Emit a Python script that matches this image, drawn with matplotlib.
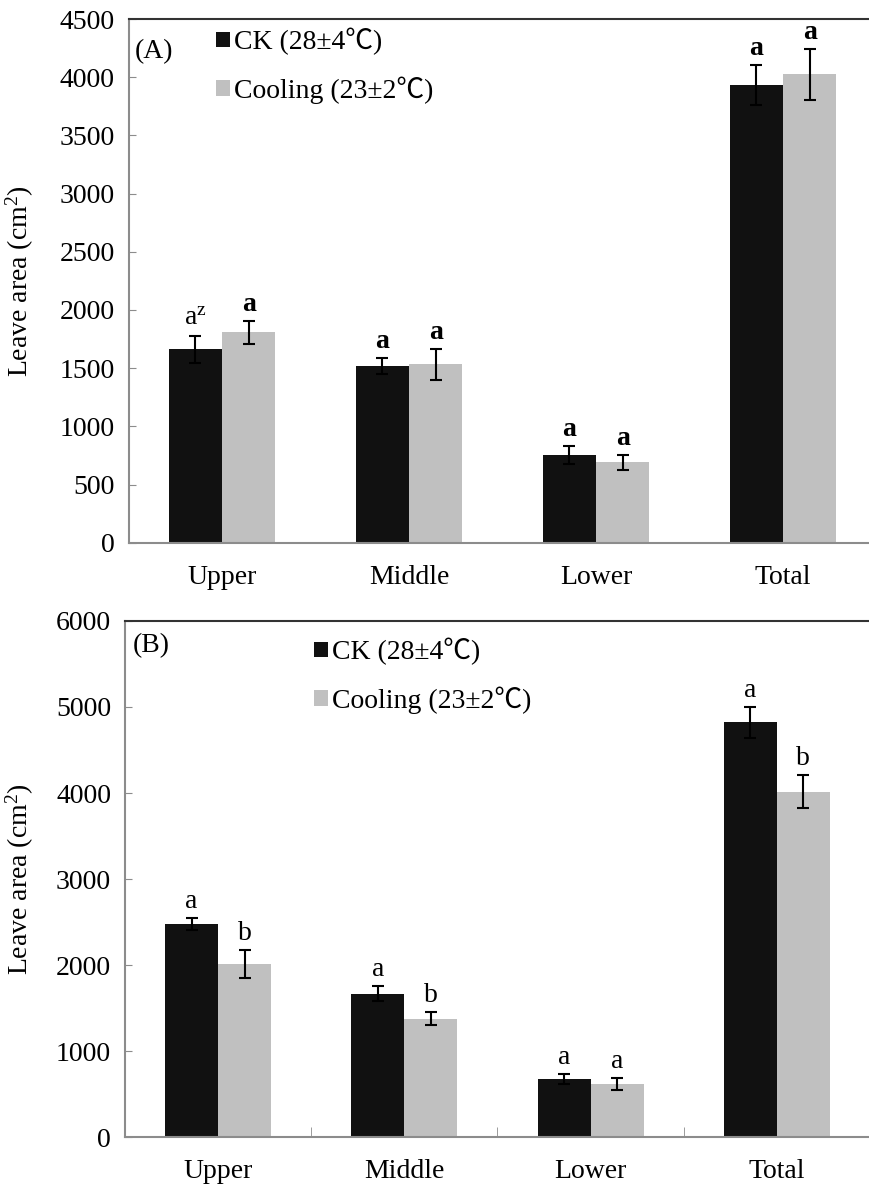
import matplotlib
matplotlib.use("Agg")
import matplotlib.pyplot as plt
import numpy as np

plt.rcParams['font.family'] = ['Liberation Serif', 'Noto Sans CJK SC']
plt.rcParams['mathtext.fontset'] = 'custom'
plt.rcParams['mathtext.rm'] = 'Liberation Serif'
plt.rcParams['mathtext.it'] = 'Liberation Serif:italic'

categories = ['Upper', 'Middle', 'Lower', 'Total']
labels = ['CK (28±4℃)', 'Cooling (23±2℃)']

# panel A
a_ck = [1662, 1518, 753, 3932]
a_ck_err = [118, 67, 75, 172]
a_cool = [1807, 1533, 690, 4024]
a_cool_err = [97, 131, 66, 221]
a_ck_let = ['a$^{\\mathregular{z}}$', 'a', 'a', 'a']
a_cool_let = ['a', 'a', 'a', 'a']

# panel B
b_ck = [2480, 1667, 671, 4822]
b_ck_err = [70, 87, 58, 177]
b_cool = [2008, 1376, 616, 4012]
b_cool_err = [163, 76, 72, 192]
b_ck_let = ['a', 'a', 'a', 'a']
b_cool_let = ['b', 'b', 'a', 'b']

fig = plt.figure(figsize=(8.69, 11.91), dpi=100)
axA = fig.add_axes([0.1479, 0.5443, 0.8608, 0.4397])
axB = fig.add_axes([0.1438, 0.0453, 0.8573, 0.4333])

w = 0.285
x = np.arange(len(categories))
fs = 20
grey = '#8c8c8c'


def panel(ax, ck, ck_err, cool, cool_err, ck_let, cool_let, ymax, step, tag,
          leg_xy, tag_xy, bold_idx, minor_x, ylab_x):
    b1 = ax.bar(x - w / 2, ck, w, color='#111111', label=labels[0], zorder=2)
    b2 = ax.bar(x + w / 2, cool, w, color='#c0c0c0', label=labels[1], zorder=2)
    ax.errorbar(x - w / 2, ck, yerr=ck_err, fmt='none', ecolor='black',
                elinewidth=1.5, capsize=4, capthick=1.5, zorder=3)
    ax.errorbar(x + w / 2, cool, yerr=cool_err, fmt='none', ecolor='black',
                elinewidth=1.5, capsize=4, capthick=1.5, zorder=3)
    for i in range(len(x)):
        for xx, v, e, t, is_ck in [(x[i] - w / 2, ck[i], ck_err[i], ck_let[i], True),
                                   (x[i] + w / 2, cool[i], cool_err[i], cool_let[i], False)]:
            bold = bold_idx and not (is_ck and i == 0)
            ax.annotate(t, (xx, v + e), xytext=(0, 3), textcoords='offset points',
                        ha='center', va='bottom', fontsize=fs,
                        fontweight='bold' if bold else 'normal')
    ax.set_xlim(-0.5, 3.5)
    ax.set_ylim(0, ymax)
    ax.set_yticks(np.arange(0, ymax + 1, step))
    ax.set_xticks(x)
    ax.set_xticklabels(categories, fontsize=fs)
    ax.tick_params(axis='x', length=0, pad=16)
    ax.tick_params(axis='y', direction='in', length=5, color=grey, labelsize=fs, pad=10)
    if minor_x:
        ax.set_xticks(x[:-1] + 0.5, minor=True)
        ax.tick_params(axis='x', which='minor', direction='in', length=7, color=grey)
    for s in ['left', 'bottom']:
        ax.spines[s].set_color(grey)
        ax.spines[s].set_linewidth(1.5)
    ax.spines['top'].set_color('#333333')
    ax.spines['top'].set_linewidth(1.5)
    ax.spines['right'].set_visible(False)
    ax.set_ylabel('Leave area (cm$^2$)', fontsize=fs)
    ax.yaxis.set_label_coords(ylab_x, 0.5)
    ax.text(tag_xy[0], tag_xy[1], tag, transform=ax.transAxes, fontsize=fs,
            ha='left', va='center')
    ax.legend(handles=[b1, b2], loc='upper left', bbox_to_anchor=leg_xy,
              frameon=False, fontsize=fs, handlelength=0.5, handleheight=0.5,
              handletextpad=0.15, labelspacing=0.75, borderpad=0, borderaxespad=0)


panel(axA, a_ck, a_ck_err, a_cool, a_cool_err, a_ck_let, a_cool_let, 4500, 500,
      '(A)', (0.117, 0.983), (0.0087, 0.9376), True, False, -0.124)
panel(axB, b_ck, b_ck_err, b_cool, b_cool_err, b_ck_let, b_cool_let, 6000, 1000,
      '(B)', (0.2537, 0.967), (0.0107, 0.953), False, True, -0.119)

fig.savefig('out.png', dpi=100)
